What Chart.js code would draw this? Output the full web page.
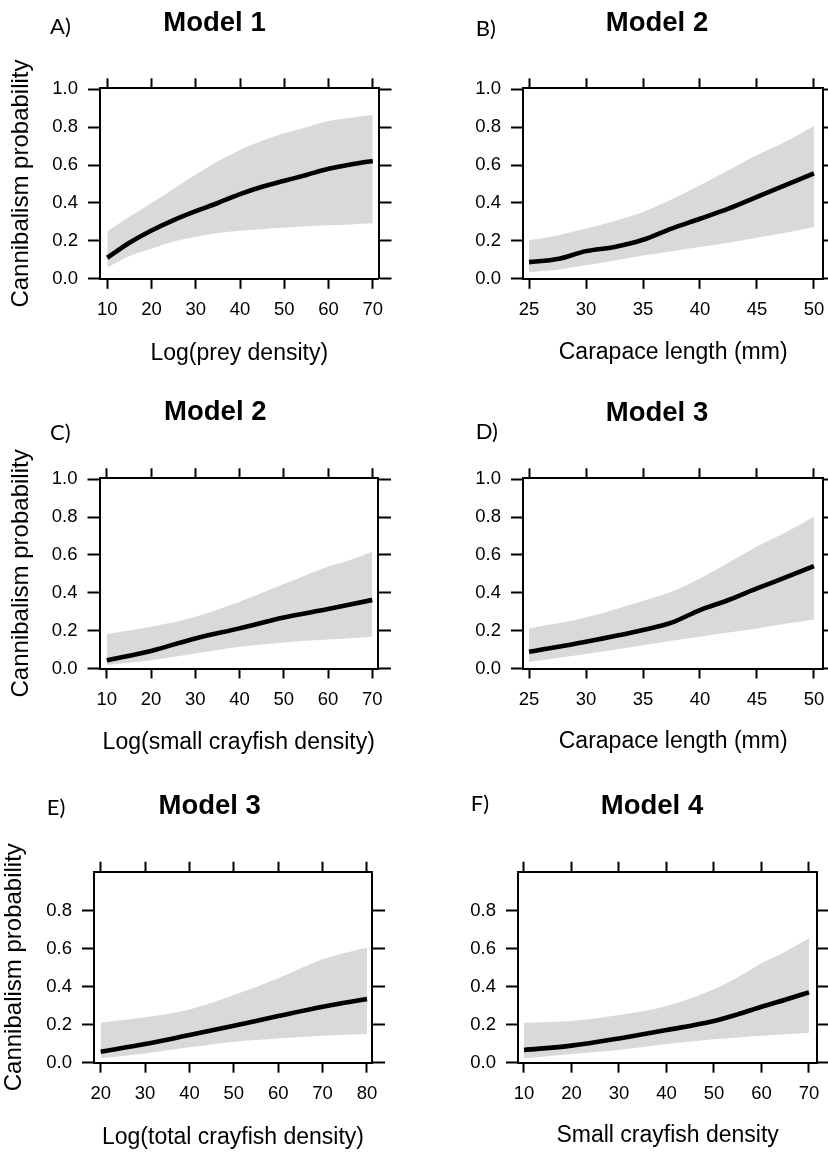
<!DOCTYPE html>
<html>
<head>
<meta charset="utf-8">
<script src="https://cdn.jsdelivr.net/npm/chart.js@4.4.1/dist/chart.umd.min.js"></script>
<style>
html,body{margin:0;padding:0;background:#fff;}
#page{position:relative;width:828px;height:1153px;overflow:hidden;background:#fff;}
.cell{position:absolute;}
.cell canvas{display:block;}
.ptitle{position:absolute;font-family:"Liberation Sans",Arial,sans-serif;font-weight:bold;font-size:27.5px;line-height:1;white-space:nowrap;transform:translateX(-50%);color:#000;}
.pletter{position:absolute;font-family:Lato,"Liberation Sans",sans-serif;font-size:22px;line-height:1;white-space:nowrap;color:#000;}
</style>
</head>
<body>
<div id="page"></div>
<script>
// ---------------- text ----------------
const panelLetters = ['A)', 'B)', 'C)', 'D)', 'E)', 'F)'];
const panelTitles = ['Model 1', 'Model 2', 'Model 2', 'Model 3', 'Model 3', 'Model 4'];
const xAxisTitles = ['Log(prey density)', 'Carapace length (mm)', 'Log(small crayfish density)',
                     'Carapace length (mm)', 'Log(total crayfish density)', 'Small crayfish density'];
const yAxisTitle = 'Cannibalism probability';

// ---------------- tick labels / axis limits ----------------
const xTicks10to70 = [10, 20, 30, 40, 50, 60, 70];
const xTicks25to50 = [25, 30, 35, 40, 45, 50];
const xTicks20to80 = [20, 30, 40, 50, 60, 70, 80];
const yTicksFull = [0, 0.2, 0.4, 0.6, 0.8, 1.0];
const yTicksShort = [0, 0.2, 0.4, 0.6, 0.8];
const xLimitsA = [8.35, 71.3];
const xLimitsB = [24.47, 50.82];
const xLimitsE = [18.49, 81.13];
const xLimitsF = [8.74, 71.75];
const yLimitsTop = [0, 1.005];
const yLimitsBottom = [0, 1.007];

// ---------------- series ----------------
// A) Model 1, Log(prey density)
const xA = [10, 15, 20, 25, 30, 35, 40, 45, 50, 55, 60, 65, 70];
const meanA = [0.111, 0.190, 0.255, 0.310, 0.357, 0.400, 0.447, 0.486, 0.517, 0.548, 0.580, 0.603, 0.622];
const upperA = [0.249, 0.327, 0.400, 0.475, 0.550, 0.620, 0.680, 0.728, 0.768, 0.800, 0.832, 0.850, 0.865];
const lowerA = [0.059, 0.120, 0.160, 0.197, 0.222, 0.242, 0.253, 0.262, 0.270, 0.277, 0.282, 0.287, 0.293];

// B) Model 2, Carapace length
const xB = [25, 27.5, 30, 32.5, 35, 37.5, 40, 42.5, 45, 47.5, 50];
const meanB = [0.088, 0.104, 0.146, 0.168, 0.206, 0.265, 0.317, 0.370, 0.432, 0.494, 0.556];
const upperB = [0.203, 0.229, 0.265, 0.305, 0.353, 0.418, 0.494, 0.573, 0.653, 0.723, 0.806];
const lowerB = [0.035, 0.048, 0.071, 0.097, 0.123, 0.146, 0.168, 0.190, 0.217, 0.243, 0.273];

// C) Model 2, Log(small crayfish density)
const xC = [10, 20, 30, 40, 50, 60, 65, 70];
const meanC = [0.044, 0.093, 0.159, 0.212, 0.270, 0.314, 0.338, 0.362];
const upperC = [0.182, 0.220, 0.273, 0.353, 0.446, 0.538, 0.573, 0.617];
const lowerC = [0.018, 0.044, 0.079, 0.115, 0.138, 0.153, 0.160, 0.168];

// D) Model 3, Carapace length
const xD = [25, 30, 35, 37.5, 40, 42.5, 45, 47.5, 50];
const meanD = [0.088, 0.141, 0.203, 0.242, 0.309, 0.362, 0.423, 0.481, 0.541];
const upperD = [0.212, 0.270, 0.358, 0.406, 0.476, 0.559, 0.644, 0.718, 0.802];
const lowerD = [0.035, 0.076, 0.123, 0.146, 0.168, 0.190, 0.212, 0.236, 0.259];

// E) Model 3, Log(total crayfish density)
const xE = [20, 30, 40, 50, 60, 70, 80];
const meanE = [0.058, 0.098, 0.146, 0.195, 0.246, 0.295, 0.336];
const upperE = [0.211, 0.239, 0.281, 0.357, 0.445, 0.545, 0.608];
const lowerE = [0.023, 0.049, 0.081, 0.111, 0.128, 0.142, 0.151];

// F) Model 4, Small crayfish density
const xF = [10, 20, 30, 40, 50, 55, 60, 65, 70];
const meanF = [0.067, 0.090, 0.128, 0.172, 0.220, 0.255, 0.295, 0.332, 0.371];
const upperF = [0.211, 0.220, 0.251, 0.299, 0.387, 0.450, 0.524, 0.585, 0.656];
const lowerF = [0.023, 0.046, 0.067, 0.098, 0.123, 0.133, 0.142, 0.150, 0.158];

// ---------------- layout (positions / styles) ----------------
const FONT = '"Liberation Sans", Arial, sans-serif';
const TICK_FONT = 18.5;
const layouts = [
  {cell: [0, 0, 414, 380],   box: {l: 100, r: 378.5, t: 88.3, b: 278.8}, xPad: 12.9, yPad: 6.9,
   title: [214.5, 21.2], letter: [50, 27]},
  {cell: [414, 0, 414, 380], box: {l: 523, r: 823.3, t: 88.3, b: 278.8}, xPad: 13.7, yPad: null,
   title: [657, 21.2], letter: [475.7, 28.3]},
  {cell: [0, 380, 414, 380], box: {l: 99.5, r: 378, t: 478.3, b: 668.5}, xPad: 3.2, yPad: 6.9,
   title: [215.3, 410.8], letter: [50, 432.5]},
  {cell: [414, 380, 414, 380], box: {l: 523, r: 823.3, t: 478.3, b: 668.5}, xPad: 4.2, yPad: null,
   title: [657, 411], letter: [475.7, 431.3]},
  {cell: [0, 760, 414, 393], box: {l: 94, r: 372, t: 871.7, b: 1062.7}, xPad: 1.7, yPad: 0,
   title: [209.7, 804.5], letter: [46.7, 808]},
  {cell: [414, 760, 414, 393], box: {l: 518, r: 817.3, t: 871.7, b: 1062.7}, xPad: 3.2, yPad: null,
   title: [652, 804.5], letter: [470.7, 804]}
];

const panels = [
  {x: xA, mean: meanA, upper: upperA, lower: lowerA, xTicks: xTicks10to70, xLim: xLimitsA, yTicks: yTicksFull, yLim: yLimitsTop},
  {x: xB, mean: meanB, upper: upperB, lower: lowerB, xTicks: xTicks25to50, xLim: xLimitsB, yTicks: yTicksFull, yLim: yLimitsTop},
  {x: xC, mean: meanC, upper: upperC, lower: lowerC, xTicks: xTicks10to70, xLim: xLimitsA, yTicks: yTicksFull, yLim: yLimitsTop},
  {x: xD, mean: meanD, upper: upperD, lower: lowerD, xTicks: xTicks25to50, xLim: xLimitsB, yTicks: yTicksFull, yLim: yLimitsTop},
  {x: xE, mean: meanE, upper: upperE, lower: lowerE, xTicks: xTicks20to80, xLim: xLimitsE, yTicks: yTicksShort, yLim: yLimitsBottom},
  {x: xF, mean: meanF, upper: upperF, lower: lowerF, xTicks: xTicks10to70, xLim: xLimitsF, yTicks: yTicksShort, yLim: yLimitsBottom}
];

const page = document.getElementById('page');

function zeroPad(s) { s.paddingLeft = 0; s.paddingRight = 0; s.paddingTop = 0; s.paddingBottom = 0; }
function setTicks(vals) { return function (s) { s.ticks = vals.map(v => ({value: v})); }; }

panels.forEach((p, i) => {
  const L = layouts[i];
  const [cx, cy, cw, ch] = L.cell;
  const wrap = document.createElement('div');
  wrap.className = 'cell';
  wrap.style.left = cx + 'px'; wrap.style.top = cy + 'px';
  wrap.style.width = cw + 'px'; wrap.style.height = ch + 'px';
  const canvas = document.createElement('canvas');
  canvas.width = cw; canvas.height = ch;
  canvas.style.width = cw + 'px'; canvas.style.height = ch + 'px';
  wrap.appendChild(canvas);
  page.appendChild(wrap);

  const leftW = L.box.l - cx, rightW = cx + cw - L.box.r;
  const topH = L.box.t - cy, bottomH = cy + ch - L.box.b;

  const border = {display: true, color: '#000', width: 2};
  const gridFor = (len) => ({drawOnChartArea: false, drawTicks: true, tickLength: len, tickWidth: 2, tickColor: '#000', color: '#000'});

  const toPts = arr => p.x.map((x, k) => ({x: x, y: arr[k]}));

  new Chart(canvas, {
    type: 'line',
    data: {
      datasets: [
        {label: 'mean', data: toPts(p.mean), borderColor: '#000', borderWidth: 4.6, pointRadius: 0,
         cubicInterpolationMode: 'monotone', fill: false, order: 0},
        {label: 'upper', data: toPts(p.upper), borderWidth: 0, borderColor: 'rgba(0,0,0,0)', pointRadius: 0,
         backgroundColor: '#d9d9d9', cubicInterpolationMode: 'monotone', fill: '+1', order: 1},
        {label: 'lower', data: toPts(p.lower), borderWidth: 0, borderColor: 'rgba(0,0,0,0)', pointRadius: 0,
         cubicInterpolationMode: 'monotone', fill: false, order: 2}
      ]
    },
    options: {
      responsive: false, animation: false, events: [],
      devicePixelRatio: 1,
      layout: {padding: 0},
      plugins: {legend: {display: false}, tooltip: {enabled: false}, title: {display: false}},
      scales: {
        x: {
          type: 'linear', position: 'bottom', min: p.xLim[0], max: p.xLim[1],
          afterBuildTicks: setTicks(p.xTicks),
          afterFit: s => { s.height = bottomH; zeroPad(s); },
          grid: gridFor(10), border: border,
          ticks: {color: '#000', font: {family: FONT, size: TICK_FONT}, padding: 10, maxRotation: 0, autoSkip: false,
                  callback: v => String(v)},
          title: {display: true, text: xAxisTitles[i], color: '#000', font: {family: FONT, size: 23},
                  padding: {top: 0, bottom: L.xPad}}
        },
        x2: {
          type: 'linear', position: 'top', min: p.xLim[0], max: p.xLim[1],
          afterBuildTicks: setTicks(p.xTicks),
          afterFit: s => { s.height = topH; zeroPad(s); },
          grid: gridFor(10), border: border,
          ticks: {display: false}
        },
        y: {
          type: 'linear', position: 'left', min: p.yLim[0], max: p.yLim[1],
          afterBuildTicks: setTicks(p.yTicks),
          afterFit: s => { s.width = leftW; zeroPad(s); },
          grid: gridFor(12), border: border,
          ticks: {color: '#000', font: {family: FONT, size: TICK_FONT}, padding: 10,
                  callback: v => Number(v).toFixed(1)},
          title: {display: L.yPad !== null, text: yAxisTitle, color: '#000', font: {family: FONT, size: 24},
                  padding: {top: L.yPad || 0, bottom: 0}}
        },
        y2: {
          type: 'linear', position: 'right', min: p.yLim[0], max: p.yLim[1],
          afterBuildTicks: setTicks(p.yTicks),
          afterFit: s => { s.width = rightW; zeroPad(s); },
          grid: gridFor(13), border: border,
          ticks: {display: false}
        }
      }
    }
  });

  const t = document.createElement('div');
  t.className = 'ptitle';
  t.textContent = panelTitles[i];
  t.style.left = L.title[0] + 'px';
  t.style.top = (L.title[1] - 0.4885 * 27.5) + 'px';
  page.appendChild(t);

  const lt = document.createElement('div');
  lt.className = 'pletter';
  lt.textContent = panelLetters[i];
  lt.style.left = L.letter[0] + 'px';
  lt.style.top = (L.letter[1] - 0.529 * 22) + 'px';
  page.appendChild(lt);
});
</script>
</body>
</html>
